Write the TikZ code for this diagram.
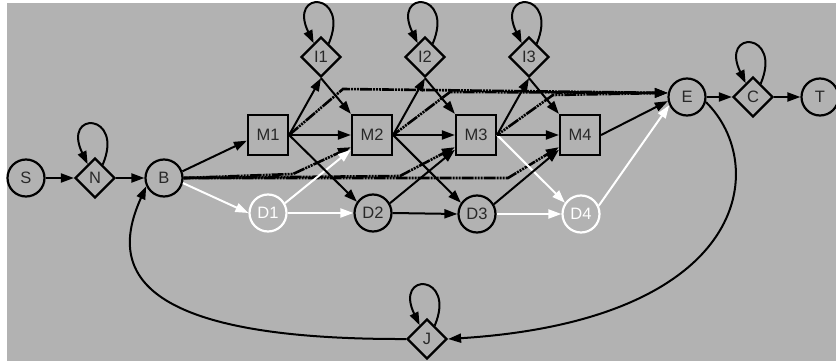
\documentclass[tikz,border=0pt]{standalone}
\usepackage{fontspec}
\setmainfont{Liberation Sans}
\usetikzlibrary{arrows.meta,shapes.geometric}
\definecolor{bg}{RGB}{178,178,178}
\definecolor{txt}{RGB}{40,40,40}
\begin{document}
\begin{tikzpicture}[x=1pt,y=-1pt,
  every node/.style={font=\fontsize{16.5}{19}\selectfont, text=txt},
  st/.style={circle, draw=black, line width=2.2pt, minimum size=37pt, inner sep=0pt, fill=bg},
  wst/.style={st, draw=white, text=white},
  mst/.style={rectangle, draw=black, line width=2.2pt, minimum size=40pt, inner sep=0pt, fill=bg},
  dst/.style={diamond, draw=black, line width=2.2pt, minimum width=40pt, minimum height=40pt, inner sep=0pt, fill=bg},
  arr/.style={line width=2pt, black, -{Triangle[length=13pt,width=9pt]}},
  warr/.style={arr, white},
  hatch/.style={arr, line width=2.6pt, dash pattern=on 12pt off 1pt on 2pt off 1pt on 2pt off 1pt on 2pt off 1pt},
]
\useasboundingbox (0,0) rectangle (836,361);
\fill[white] (0,0) rectangle (836,361);
\fill[bg] (7,3) rectangle (836,361);

% nodes
\node[st]  (S)  at (26,178)  {S};
\node[dst] (N)  at (95,178)  {N};
\node[st]  (B)  at (164,178) {B};
\node[mst] (M1) at (268,135) {M1};
\node[mst] (M2) at (372,135) {M2};
\node[mst] (M3) at (476,135) {M3};
\node[mst] (M4) at (580,135) {M4};
\node[dst] (I1) at (321,57)  {I1};
\node[dst] (I2) at (425,57)  {I2};
\node[dst] (I3) at (529,57)  {I3};
\node[wst] (D1) at (268,213) {D1};
\node[st]  (D2) at (373,213) {D2};
\node[st]  (D3) at (477,214) {D3};
\node[wst] (D4) at (581,214) {D4};
\node[st]  (E)  at (687,97)  {E};
\node[dst] (C)  at (753,97)  {C};
\node[st]  (T)  at (820,97)  {T};
\node[dst] (J)  at (427,339) {J};

% corner coordinates of the entry / exit paths
\coordinate (b2) at (293,174);
\coordinate (b3) at (400,176);
\coordinate (b4) at (508,178);
\coordinate (e1) at (343,89);
\coordinate (e2) at (450,92);
\coordinate (e3) at (553,95);

% hatched entry and exit paths
\draw[hatch] (B.east) -- (b2) -- (M2.210);
\draw[hatch, dash phase=4pt] (B.east) -- (b3) -- (M3.210);
\draw[hatch, dash phase=8pt] (B.east) -- (b4) -- (M4.210);
\draw[hatch] (M1.east) -- (e1) -- (E.168);
\draw[hatch, dash phase=4pt] (M2.east) -- (e2) -- (E.168);
\draw[hatch, dash phase=8pt] (M3.east) -- (e3) -- (E.168);

% white edges
\draw[warr] (B.-15) -- (D1.west);
\draw[warr] (D1.30) -- (M2.215);
\draw[warr] (D1.east) -- (D2.west);
\draw[warr] (M3.east) -- (D4.145);
\draw[warr] (D3.east) -- (D4.west);
\draw[warr] (D4.25) -- (E.205);

% black edges
\draw[arr] (S.east) -- (N.west);
\draw[arr] (N.east) -- (B.west);
\draw[arr] (B.20) -- (M1.195);

\draw[arr] (M1.east) -- (I1.south);
\draw[arr] (I1.south) -- (M2.north west);
\draw[arr] (M1.east) -- (M2.west);
\draw[arr] (M1.east) -- (D2.145);

\draw[arr] (M2.east) -- (I2.south);
\draw[arr] (I2.south) -- (M3.north west);
\draw[arr] (M2.east) -- (M3.west);
\draw[arr] (M2.east) -- (D3.145);
\draw[arr] (D2.30) -- (M3.215);
\draw[arr] (D2.east) -- (D3.west);

\draw[arr] (M3.east) -- (I3.south);
\draw[arr] (I3.south) -- (M4.north west);
\draw[arr] (M3.east) -- (M4.west);
\draw[arr] (D3.30) -- (M4.215);

\draw[arr] (M4.east) -- (E.192);
\draw[arr] (E.east) -- (C.west);
\draw[arr] (C.east) -- (T.west);

\draw[arr] (E.-15) .. controls (770,165) and (750,320) .. (J.east);
\draw[arr] (J.west) .. controls (120,340) and (112,262) .. (B.205);

% self loops
\foreach \n in {N,I1,I2,I3,C,J}{
  \draw[arr] (\n.60) .. controls +(22,-52) and +(-26,-54) .. (\n.118);
}
\end{tikzpicture}
\end{document}
